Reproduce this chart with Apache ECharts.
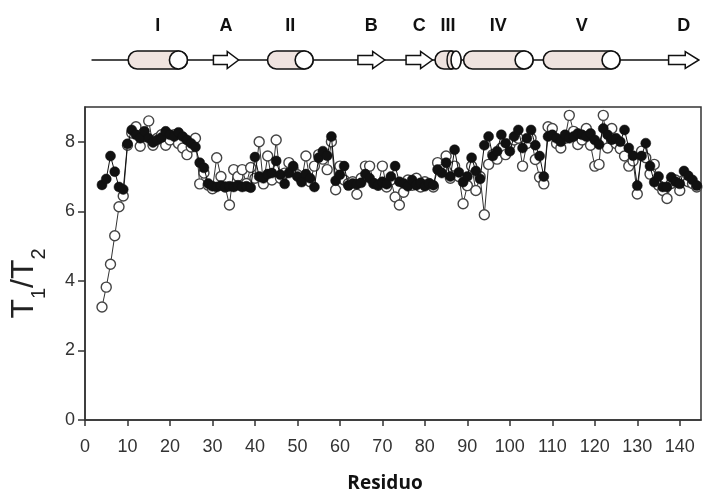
<!DOCTYPE html>
<html>
<head>
<meta charset="utf-8">
<script src="https://cdn.jsdelivr.net/npm/echarts@6/dist/echarts.min.js"></script>
<style>html,body{margin:0;padding:0;background:#fff;}#c{width:703px;height:498px;}</style>
</head>
<body>
<div id="c"></div>
<script>
// residue numbers
const residues = [];
for (let r = 4; r <= 144; r++) residues.push(r);

// T1/T2, open circles
const openVals = [
 3.25,3.82,4.48,5.30,6.13,6.44,7.90,8.25,8.43,7.87,
 8.15,8.60,7.90,8.10,8.20,7.90,8.05,8.20,7.95,7.82,
 7.63,7.85,8.10,6.79,7.10,6.75,6.65,7.54,7.00,6.70,
 6.18,7.20,7.00,7.20,6.80,7.26,6.95,8.00,6.79,7.59,
 6.90,8.05,6.95,7.10,7.40,7.20,7.05,6.90,7.59,6.85,
 7.30,7.63,7.50,7.20,8.00,6.62,7.30,6.90,6.80,6.85,
 6.49,6.95,7.30,7.30,6.80,6.75,7.30,6.70,6.90,6.41,
 6.18,6.55,6.90,6.75,6.95,6.70,6.85,6.80,6.70,7.40,
 7.20,7.59,6.95,7.30,7.00,6.22,6.74,7.30,6.60,7.00,
 5.90,7.35,7.63,7.50,7.82,7.63,7.90,8.05,8.10,7.30,
 7.95,8.10,7.49,6.98,6.79,8.43,8.38,7.95,7.82,8.10,
 8.76,8.30,7.92,8.05,8.38,7.90,7.30,7.35,8.76,7.82,
 8.38,7.95,7.80,7.59,7.30,7.45,6.50,7.73,7.54,7.07,
 7.35,6.75,6.60,6.37,6.80,6.90,6.60,6.90,6.85,6.80,
 6.70
];
// T1/T2, filled circles
const filledVals = [
 6.76,6.93,7.59,7.14,6.70,6.63,7.94,8.34,8.20,8.10,
 8.30,8.10,7.98,8.05,8.12,8.30,8.20,8.15,8.27,8.15,
 8.05,7.95,7.85,7.40,7.25,6.80,6.72,6.70,6.74,6.70,
 6.72,6.70,6.75,6.70,6.72,6.68,7.56,7.00,6.95,7.07,
 7.10,7.45,7.05,6.79,7.10,7.30,7.00,6.84,7.07,6.95,
 6.70,7.54,7.73,7.60,8.15,6.88,7.05,7.30,6.74,6.80,
 6.78,6.82,7.07,6.95,6.80,6.75,6.85,6.78,7.00,7.30,
 6.85,6.80,6.72,6.90,6.75,6.82,6.72,6.80,6.75,7.20,
 7.10,7.40,7.00,7.77,7.12,6.84,7.00,7.54,7.16,6.93,
 7.90,8.15,7.59,7.73,8.20,7.96,7.73,8.15,8.34,7.82,
 8.10,8.34,7.90,7.59,7.00,8.15,8.20,8.10,8.00,8.20,
 8.10,8.15,8.24,8.20,8.15,8.24,8.05,7.92,8.38,8.20,
 8.06,8.10,8.00,8.34,7.82,7.60,6.74,7.59,7.96,7.30,
 6.84,7.00,6.70,6.70,6.98,6.85,6.79,7.16,7.02,6.90,
 6.74
];

const xTicks = [0,10,20,30,40,50,60,70,80,90,100,110,120,130,140];
const yTicks = [0,2,4,6,8];

// secondary structure (residue ranges)
const helixNames = ['I','II','III','IV','V'];
const helixStart = [10.6, 43.3, 82.6, 89.3, 108.0];
const helixEnd   = [24.5, 54.0, 88.7, 105.6, 126.0];
const strandNames = ['A','B','C','D'];
const strandStart = [30.6, 64.5, 75.8, 137.4];
const strandEnd   = [36.5, 70.8, 82.0, 144.5];
const backbone = [2, 144.5];

const FONT = "'Liberation Sans',Arial,sans-serif";

const structData = [];
helixNames.forEach((n,i)=>structData.push([helixStart[i], helixEnd[i], 0, n]));
strandNames.forEach((n,i)=>structData.push([strandStart[i], strandEnd[i], 1, n]));

function renderStruct(params, api) {
  const s = api.value(0), e = api.value(1), kind = api.value(2);
  const name = structData[params.dataIndex][3];
  const p0 = api.coord([s, 0]), p1 = api.coord([e, 0]);
  const y = p0[1];
  const children = [];
  if (kind === 0) {
    const h = 18, r = h/2;
    if (name === 'III') {
      children.push({type:'rect', shape:{x:p0[0], y:y-r, width:p1[0]-p0[0], height:h, r:r},
        style:{fill:'#efe3df', stroke:'#111', lineWidth:1.6}});
      children.push({type:'ellipse', shape:{cx:p1[0]-10, cy:y, rx:4, ry:r},
        style:{fill:'#efe3df', stroke:'#111', lineWidth:1.4}});
      children.push({type:'ellipse', shape:{cx:p1[0]-5, cy:y, rx:5, ry:r},
        style:{fill:'#fff', stroke:'#111', lineWidth:1.6}});
    } else {
      children.push({type:'rect', shape:{x:p0[0], y:y-r, width:p1[0]-p0[0], height:h, r:r},
        style:{fill:'#efe3df', stroke:'#111', lineWidth:1.6}});
      children.push({type:'ellipse', shape:{cx:p1[0]-r, cy:y, rx:r, ry:r},
        style:{fill:'#fff', stroke:'#111', lineWidth:1.6}});
    }
  } else {
    const len = p1[0]-p0[0];
    const bx = p0[0] + len*0.55;
    children.push({type:'polygon', shape:{points:[
      [p0[0], y-4.5],[bx, y-4.5],[bx, y-8.5],[p1[0], y],[bx, y+8.5],[bx, y+4.5],[p0[0], y+4.5]]},
      style:{fill:'#fff', stroke:'#111', lineWidth:1.5}});
  }
  children.push({type:'text', style:{text:name, x:(p0[0]+p1[0])/2, y:y-34, align:'center', verticalAlign:'middle',
    font:"bold 18px 'Liberation Sans',Arial,sans-serif", fill:'#111'}});
  return {type:'group', children};
}

function renderBackbone(params, api) {
  const a = api.coord([api.value(0), 0]), b = api.coord([api.value(1), 0]);
  return {type:'line', shape:{x1:a[0], y1:a[1], x2:b[0], y2:b[1]}, style:{stroke:'#111', lineWidth:1.5}};
}

const chart = echarts.init(document.getElementById('c'), null, {renderer:'canvas'});
chart.setOption({
  animation:false,
  backgroundColor:'#fff',
  grid:[
    {left:83, right:2, top:107, bottom:73, show:true, borderColor:'#333', borderWidth:1.5, backgroundColor:'transparent'},
    {left:83, right:2, top:50, height:20}
  ],
  xAxis:[
    {type:'value', gridIndex:0, min:0, max:145, interval:10,
     axisLine:{lineStyle:{color:'#333', width:1.5}},
     axisTick:{show:true, length:6, customValues:xTicks, lineStyle:{color:'#333', width:1.5}},
     axisLabel:{customValues:xTicks, color:'#333', fontSize:18, fontFamily:FONT, margin:18},
     splitLine:{show:false},
     name:'Residuo', nameLocation:'middle', nameGap:54,
     nameTextStyle:{fontFamily:"'Open Sans',sans-serif", fontWeight:'bold', fontSize:19, color:'#111', padding:[0,16,0,0]}},
    {type:'value', gridIndex:1, min:0, max:145, show:false}
  ],
  yAxis:[
    {type:'value', gridIndex:0, min:0, max:9, interval:2,
     axisLine:{show:true, lineStyle:{color:'#333', width:1.5}},
     axisTick:{show:true, length:7, customValues:yTicks, lineStyle:{color:'#333', width:1.5}},
     axisLabel:{customValues:yTicks, color:'#333', fontSize:18, fontFamily:FONT, margin:10},
     splitLine:{show:false},
     name:'{t|T}{s|1}{t|/T}{s|2}', nameLocation:'middle', nameGap:36, nameRotate:90,
     nameTextStyle:{padding:[0,40,0,0], rich:{
       t:{fontSize:32, fontFamily:"'Liberation Sans',Arial,sans-serif", color:'#222', padding:[0,0,9,0]},
       s:{fontSize:20, fontFamily:"'Liberation Sans',Arial,sans-serif", color:'#222', verticalAlign:'bottom'}
     }}},
    {type:'value', gridIndex:1, min:-1, max:1, show:false}
  ],
  series:[
    {type:'custom', xAxisIndex:1, yAxisIndex:1, data:[backbone], renderItem:renderBackbone, silent:true, z:1},
    {type:'custom', xAxisIndex:1, yAxisIndex:1, data:structData, renderItem:renderStruct, silent:true, z:2},
    {name:'open', type:'line', xAxisIndex:0, yAxisIndex:0,
     data:residues.map((r,i)=>[r, openVals[i]]),
     symbol:'circle', symbolSize:10, showAllSymbol:true,
     lineStyle:{color:'#333', width:1},
     itemStyle:{color:'#fff', borderColor:'#444', borderWidth:1.4}, z:3},
    {name:'filled', type:'line', xAxisIndex:0, yAxisIndex:0,
     data:residues.map((r,i)=>[r, filledVals[i]]),
     symbol:'circle', symbolSize:10, showAllSymbol:true,
     lineStyle:{color:'#111', width:1},
     itemStyle:{color:'#111', borderColor:'#111', borderWidth:0.5}, z:4}
  ]
});
</script>
</body>
</html>
